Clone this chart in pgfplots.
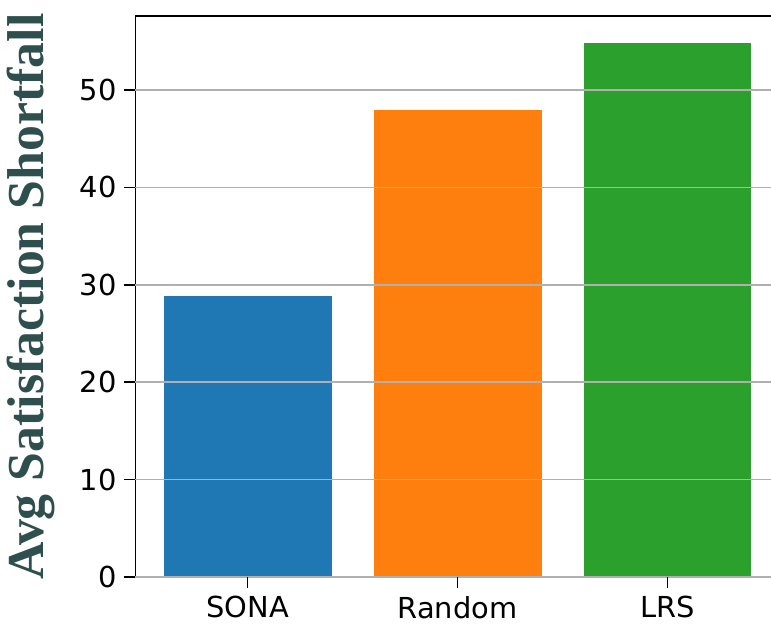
\documentclass[border=0pt]{standalone}
\usepackage{fontspec}
\setmainfont{DejaVu Sans}
\newfontfamily\labelfont{Liberation Serif}
\usepackage{pgfplots}
\pgfplotsset{compat=1.18}
\definecolor{cblue}{HTML}{1F77B4}
\definecolor{corange}{HTML}{FF7F0E}
\definecolor{cgreen}{HTML}{2CA02C}
\definecolor{labcol}{HTML}{2F4F4F}
\begin{document}
\begin{tikzpicture}
\path[use as bounding box] (0,0) rectangle (771bp,625bp);
\begin{axis}[
  at={(135bp,48bp)}, anchor=south west,
  scale only axis, width=636bp, height=561bp,
  xmin=-0.536, xmax=2.493, ymin=0, ymax=57.6,
  xtick={0,1,2}, xticklabels={SONA,Random,LRS},
  ytick={0,10,20,30,40,50},
  xtick pos=left, ytick pos=left,
  ymajorgrids, grid style={color=black!31, line width=1.6bp},
  axis line style={draw=none},
  tick style={black, line width=1.6bp},
  tick align=outside, major tick length=11bp,
  tick label style={font=\fontsize{29}{33}\selectfont},
  xticklabel style={yshift=-5bp},
  yticklabel style={xshift=-4bp},
  /pgf/number format/assume math mode=true,
  ylabel={Avg Satisfaction Shortfall},
  ylabel style={font=\labelfont\bfseries\fontsize{52}{56}\selectfont, text=labcol,
    at={(axis description cs:-0.163,0.5)}, anchor=center},
  axis on top,
  ybar, bar width=0.8, bar shift=0pt,
]
\addplot[fill=cblue, draw=none] coordinates {(0,28.9)};
\addplot[fill=corange, draw=none] coordinates {(1,47.95)};
\addplot[fill=cgreen, draw=none] coordinates {(2,54.8)};
\draw[line width=2bp, line cap=rect] (rel axis cs:0,0) -- (rel axis cs:0,1) -- (rel axis cs:1,1);
\draw[line width=2bp] (rel axis cs:0,0) -- (rel axis cs:1,0);
\end{axis}
\end{tikzpicture}
\end{document}
